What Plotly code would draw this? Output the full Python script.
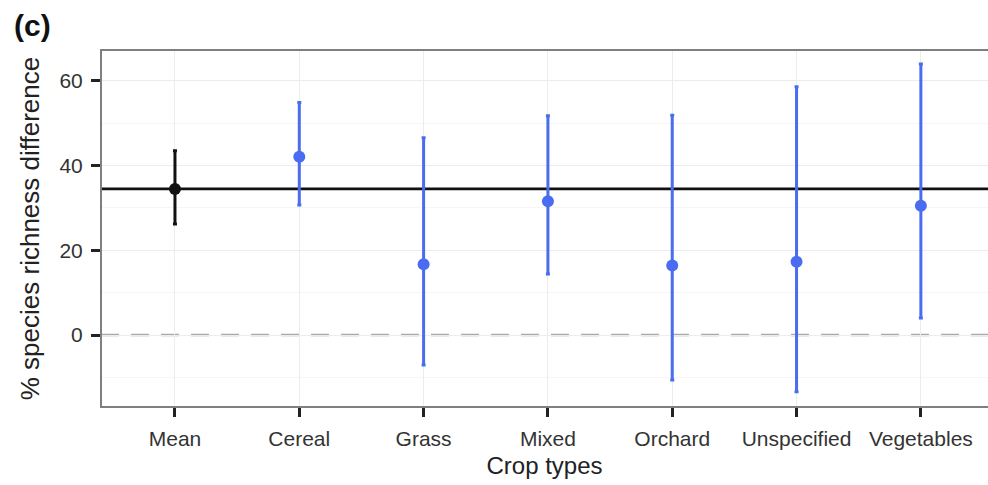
import plotly.graph_objects as go

# Crop types and estimated effect sizes (% species richness difference)
crop_types = ["Mean", "Cereal", "Grass", "Mixed", "Orchard", "Unspecified", "Vegetables"]
effect = [34.5, 42.1, 16.7, 31.6, 16.4, 17.3, 30.5]
ci_upper = [43.5, 54.9, 46.6, 51.8, 51.9, 58.6, 64.0]
ci_lower = [26.2, 30.7, -7.1, 14.4, -10.6, -13.4, 4.0]

y_ticks = [0, 20, 40, 60]

overall_mean = effect[0]
colors = ["#111111"] + ["#4a6cf0"] * (len(crop_types) - 1)

FONT = "Liberation Sans, Arial, sans-serif"

fig = go.Figure()

idx = list(range(len(crop_types)))

for i in idx:
    fig.add_trace(go.Scatter(
        x=[i], y=[effect[i]],
        mode="markers",
        marker=dict(color=colors[i], size=12),
        error_y=dict(
            type="data", symmetric=False,
            array=[ci_upper[i] - effect[i]],
            arrayminus=[effect[i] - ci_lower[i]],
            color=colors[i], thickness=3, width=2,
        ),
        showlegend=False,
    ))

axis_font = dict(family=FONT, size=21, color="#333333")

fig.update_layout(
    width=988, height=485,
    margin=dict(l=101, r=0, t=50, b=78),
    paper_bgcolor="white",
    plot_bgcolor="white",
    font=dict(family=FONT, color="#222222"),
    xaxis=dict(
        range=[-0.595, 6.54],
        tickmode="array", tickvals=idx, ticktext=crop_types,
        tickfont=axis_font,
        ticks="outside", ticklen=9, tickwidth=2.5, tickcolor="#222222",
        ticklabelstandoff=4,
        showgrid=True, gridcolor="#ececec", gridwidth=1,
        zeroline=False, showline=False,
        title=dict(text="Crop types", font=dict(size=24, color="#222222", family=FONT),
                   standoff=7),
    ),
    yaxis=dict(
        range=[-17.0, 67.3],
        tickmode="array", tickvals=y_ticks,
        tickfont=axis_font,
        ticks="outside", ticklen=9, tickwidth=2.5, tickcolor="#222222",
        ticklabelstandoff=4,
        showgrid=True, gridcolor="#ececec", gridwidth=1,
        minor=dict(showgrid=True, gridcolor="#f6f6f6", tickvals=[-10, 10, 30, 50], ticks=""),
        zeroline=False, showline=False,
        title=dict(text="% species richness difference",
                   font=dict(size=26, color="#222222", family=FONT), standoff=12),
    ),
)

# zero reference line and overall mean line
fig.add_hline(y=0, line=dict(color="#aaaaaa", width=2.5, dash="18px,12px"), layer="below")
fig.add_hline(y=overall_mean, line=dict(color="#111111", width=2.8), layer="below")

# panel border
fig.add_shape(type="rect", xref="paper", yref="paper", x0=0, x1=1.02, y0=0, y1=1,
              line=dict(color="#7f7f7f", width=2), layer="above")

# panel label
fig.add_annotation(text="<b>(c)</b>", xref="paper", yref="paper",
                   x=-89 / 887, y=1 + 25 / 357, xanchor="left", yanchor="middle",
                   showarrow=False, font=dict(size=30, color="#111111", family=FONT))

fig.write_html("out.html")
